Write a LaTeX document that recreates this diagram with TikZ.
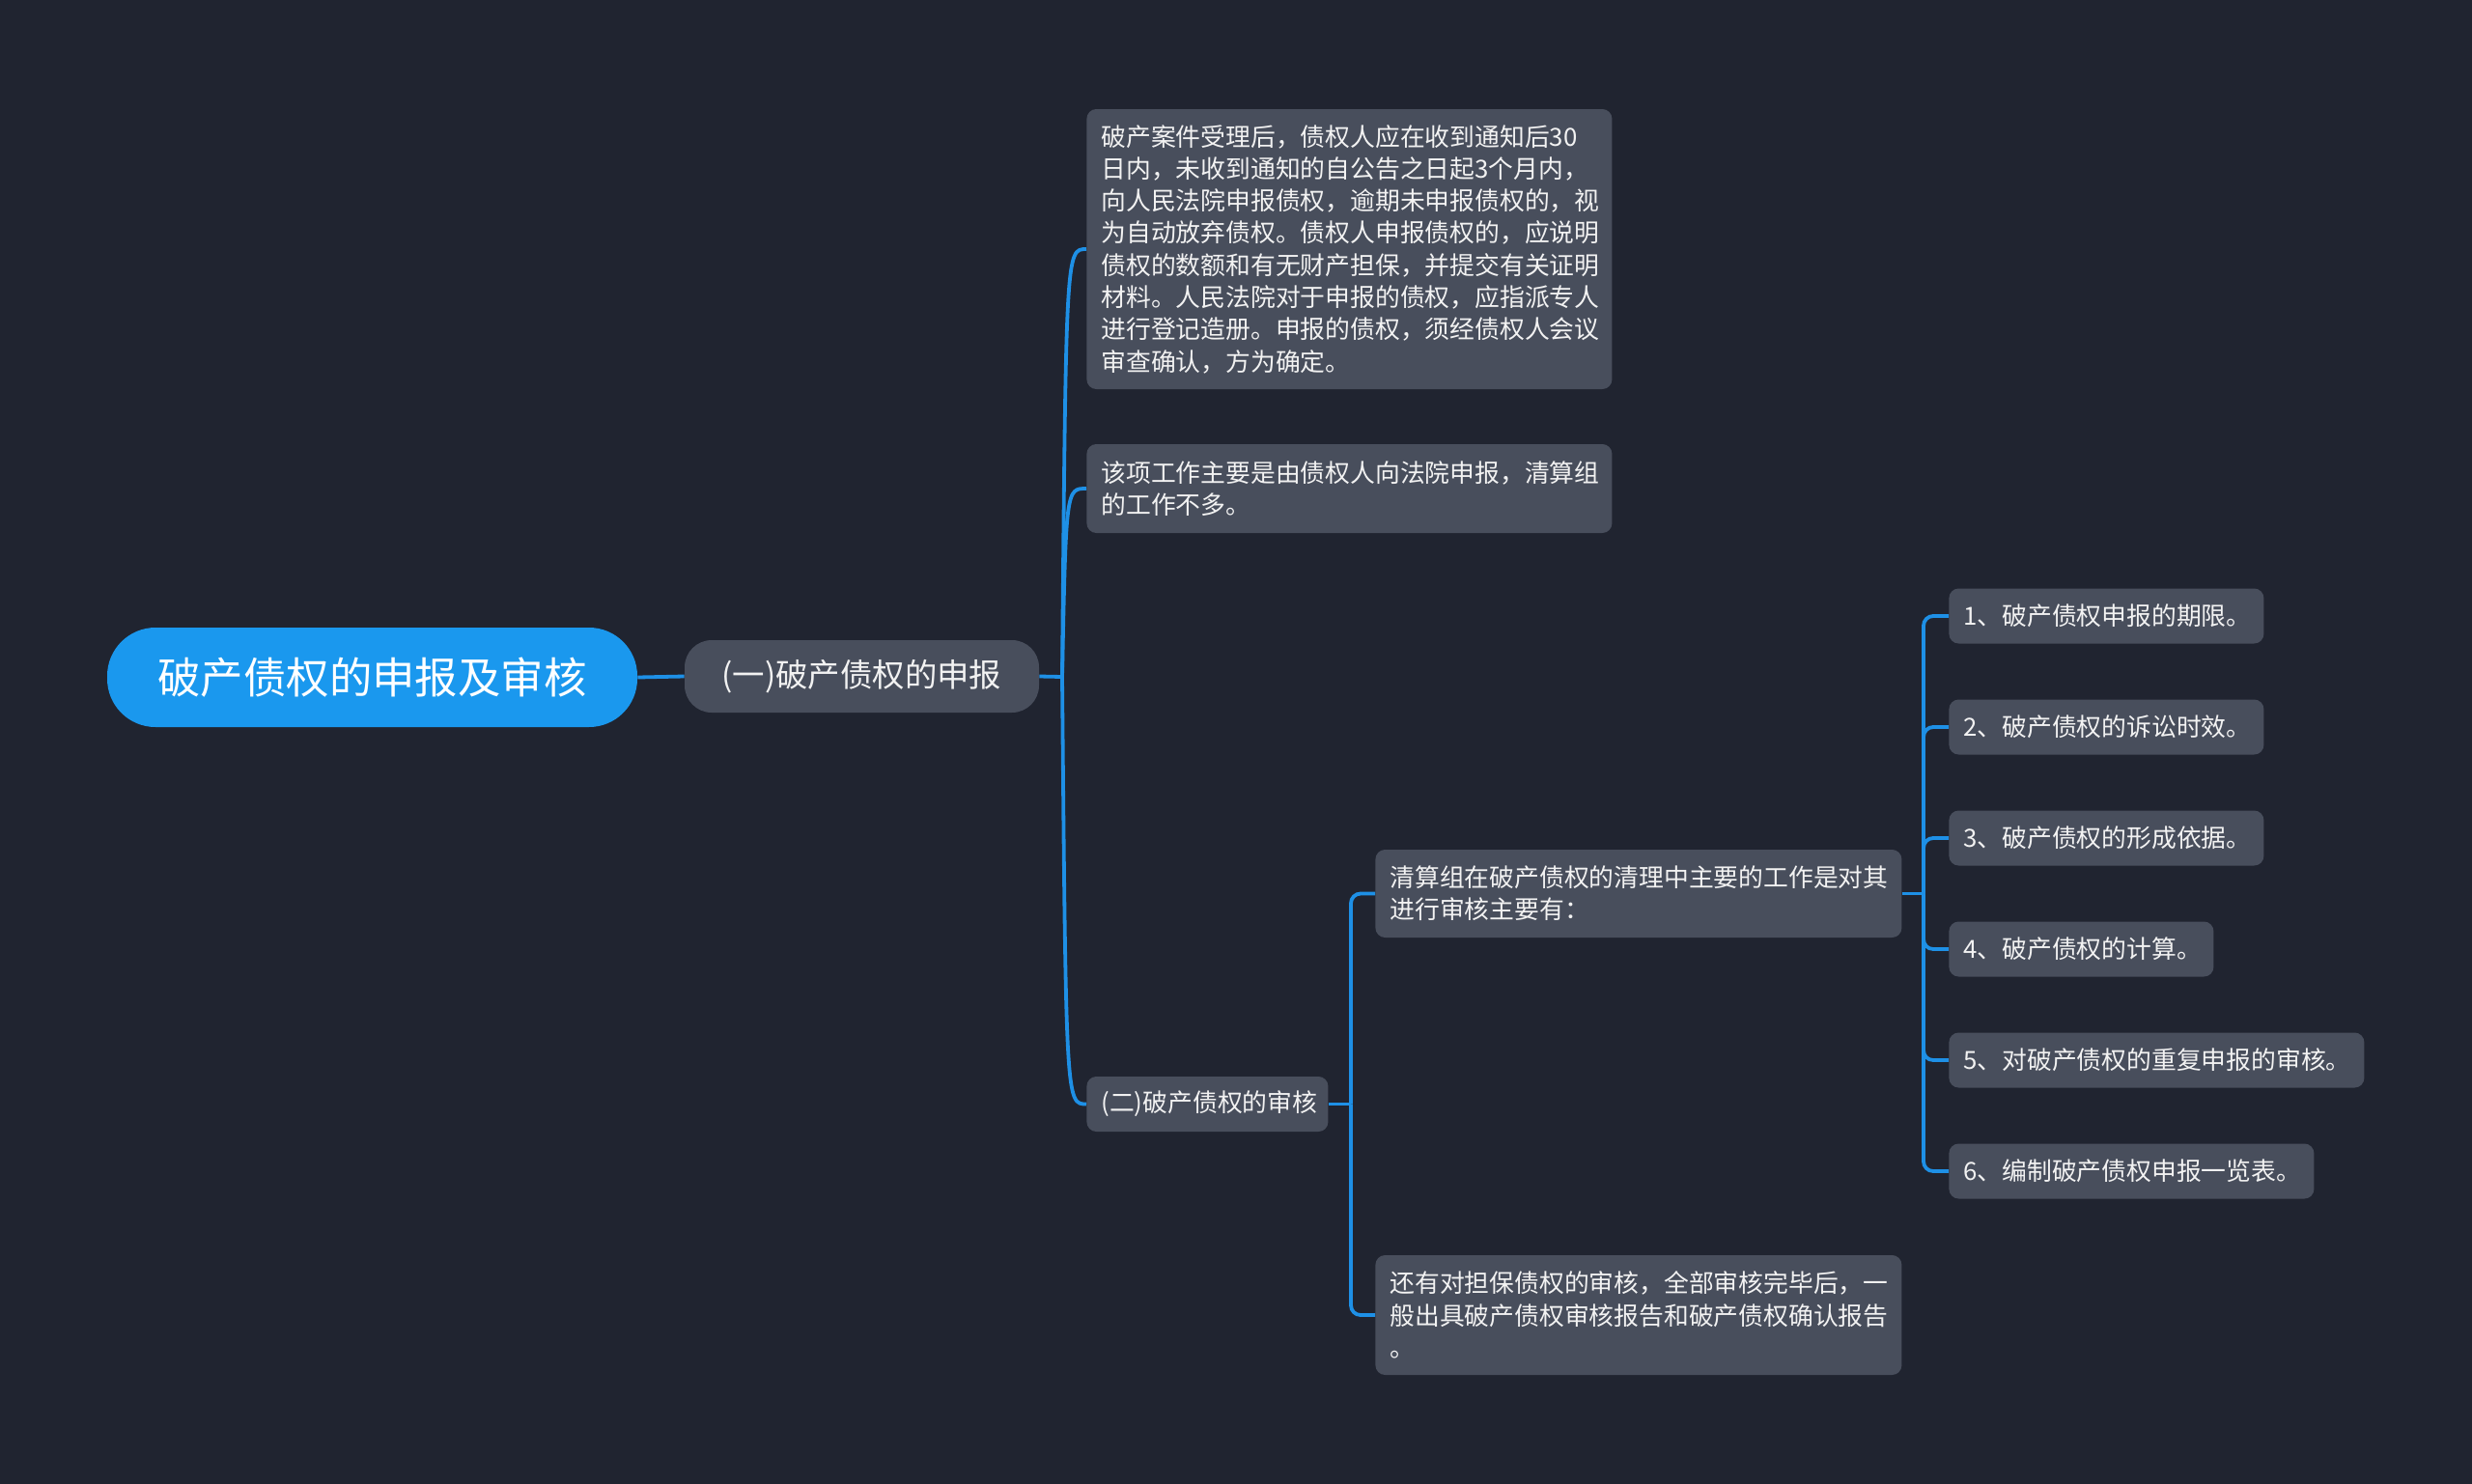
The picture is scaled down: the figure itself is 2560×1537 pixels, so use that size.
\documentclass[tikz,border=0pt]{standalone}
\usepackage{fontspec}
\setmainfont{Noto Sans CJK SC}
\definecolor{bgc}{HTML}{202430}
\definecolor{boxc}{HTML}{484E5C}
\definecolor{rootc}{HTML}{1A98EE}
\definecolor{linec}{HTML}{1E90E6}
\definecolor{txt}{HTML}{F2F2F2}
\tikzset{
  box/.style={fill=boxc, rounded corners=5pt, text=txt, font=\fontsize{12.9pt}{16.65pt}\selectfont,
    align=left, inner xsep=7.5pt, inner ysep=0pt, anchor=west},
  conn/.style={draw=linec, line width=1.9pt},
  elbow/.style={conn, rounded corners=5pt},
}
\begin{document}
\begin{tikzpicture}[x=0.5pt,y=-0.5pt]
\useasboundingbox (0,0) rectangle (2560,1537);
\fill[bgc] (0,0) rectangle (2560,1537);

% root and first level
\node[fill=rootc, rounded corners=25pt, text=white, minimum width=274.5pt, minimum height=51.5pt,
  inner sep=0pt, font=\fontsize{22.2pt}{26pt}\selectfont] (root) at (385.5,701.5) {破产债权的申报及审核};
\node[fill=boxc, rounded corners=14pt, text=txt, minimum width=183.5pt, minimum height=37.5pt,
  inner sep=0pt, font=\fontsize{16.7pt}{20pt}\selectfont] (s1) at (892.5,700.5) {(一)破产债权的申报};

% children of s1
\node[box, text width=257pt, minimum height=145pt] (a) at (1125,258) {破产案件受理后，债权人应在收到通知后30\\日内，未收到通知的自公告之日起3个月内，\\向人民法院申报债权，逾期未申报债权的，视\\为自动放弃债权。债权人申报债权的，应说明\\债权的数额和有无财产担保，并提交有关证明\\材料。人民法院对于申报的债权，应指派专人\\进行登记造册。申报的债权，须经债权人会议\\审查确认，方为确定。};
\node[box, text width=257pt, minimum height=46pt] (b) at (1125,506) {该项工作主要是由债权人向法院申报，清算组\\的工作不多。};
\node[box, text width=110pt, minimum height=28.5pt] (s2) at (1125,1143.5) {(二)破产债权的审核};

% children of s2
\node[box, text width=257.5pt, minimum height=45.5pt] (c) at (1424,925.5) {清算组在破产债权的清理中主要的工作是对其\\进行审核主要有：};
\node[box, text width=257.5pt, minimum height=62pt] (d) at (1424,1362) {还有对担保债权的审核，全部审核完毕后，一\\般出具破产债权审核报告和破产债权确认报告\\。};

% items
\node[box, text width=148pt, minimum height=28.5pt] (i1) at (2018,638) {1、破产债权申报的期限。};
\node[box, text width=148pt, minimum height=28.5pt] (i2) at (2018,753) {2、破产债权的诉讼时效。};
\node[box, text width=148pt, minimum height=28.5pt] (i3) at (2018,868) {3、破产债权的形成依据。};
\node[box, text width=122pt, minimum height=28.5pt] (i4) at (2018,983) {4、破产债权的计算。};
\node[box, text width=200pt, minimum height=28.5pt] (i5) at (2018,1098) {5、对破产债权的重复申报的审核。};
\node[box, text width=174pt, minimum height=28.5pt] (i6) at (2018,1213) {6、编制破产债权申报一览表。};

% connectors
\coordinate (j1) at (1100,701);
\coordinate (j2) at (1399,1143.5);
\coordinate (j3) at (1992,925.5);

\draw[conn] (root.east) -- (s1.west);
\draw[conn] (s1.east) -- (j1);
\draw[conn] (j1) .. controls (1104,258) and (1104,258) .. (a.west);
\draw[conn] (j1) .. controls (1104,506) and (1104,506) .. (b.west);
\draw[conn] (j1) .. controls (1104,1143.5) and (1104,1143.5) .. (s2.west);

\draw[conn] (s2.east) -- (j2);
\draw[elbow] (j2) |- (c.west);
\draw[elbow] (j2) |- (d.west);

\draw[conn] (c.east) -- (j3);
\foreach \n in {i1,i2,i3,i4,i5,i6}{
  \draw[elbow] (j3) |- (\n.west);
}
\end{tikzpicture}
\end{document}
